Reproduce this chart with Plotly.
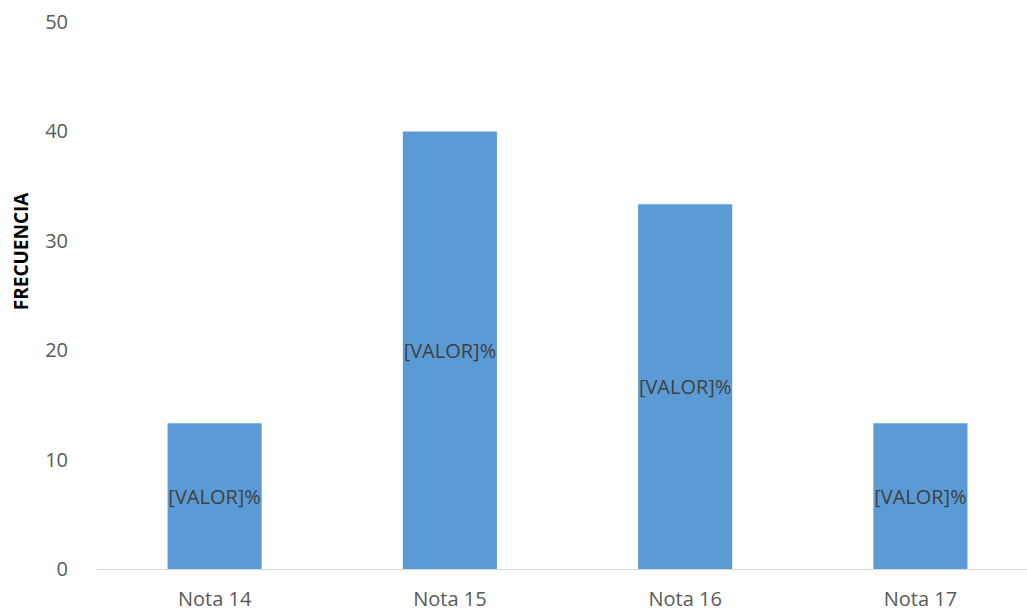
import plotly.graph_objects as go

categories = ["Nota 14", "Nota 15", "Nota 16", "Nota 17"]
frecuencia = [13.33, 40.0, 33.33, 13.33]
bar_labels = ["[VALOR]%", "[VALOR]%", "[VALOR]%", "[VALOR]%"]
y_ticks = [0, 10, 20, 30, 40, 50]

FONT = "Open Sans, Liberation Sans, sans-serif"

fig = go.Figure(
    go.Bar(
        x=categories,
        y=frecuencia,
        text=bar_labels,
        textposition="inside",
        insidetextanchor="middle",
        constraintext="none",
        textangle=0,
        textfont=dict(family=FONT, size=20, color="#404040"),
        marker=dict(color="#5B9BD5", line=dict(width=0)),
        width=0.4,
        cliponaxis=False,
        hoverinfo="x+y",
    )
)

fig.update_layout(
    width=1027,
    height=612,
    margin=dict(l=97, r=0, t=22, b=41),
    paper_bgcolor="white",
    plot_bgcolor="white",
    showlegend=False,
    font=dict(family=FONT, size=20, color="#595959"),
    xaxis=dict(
        type="category",
        range=[-0.5, 3.453],
        showgrid=False,
        showline=True,
        linecolor="#D9D9D9",
        linewidth=1,
        ticks="",
        ticklabelstandoff=12,
        tickfont=dict(size=20, color="#595959"),
    ),
    yaxis=dict(
        range=[0, 50],
        tickvals=y_ticks,
        showgrid=False,
        zeroline=False,
        showline=False,
        ticks="",
        ticklabelstandoff=28,
        tickfont=dict(size=20, color="#595959"),
    ),
    annotations=[
        dict(
            text="<b>FRECUENCIA</b>",
            xref="paper",
            yref="paper",
            x=-0.0817,
            y=0.581,
            xanchor="center",
            yanchor="middle",
            textangle=-90,
            showarrow=False,
            font=dict(family=FONT, size=19, color="#000000"),
        )
    ],
)

fig.write_html("out.html")
